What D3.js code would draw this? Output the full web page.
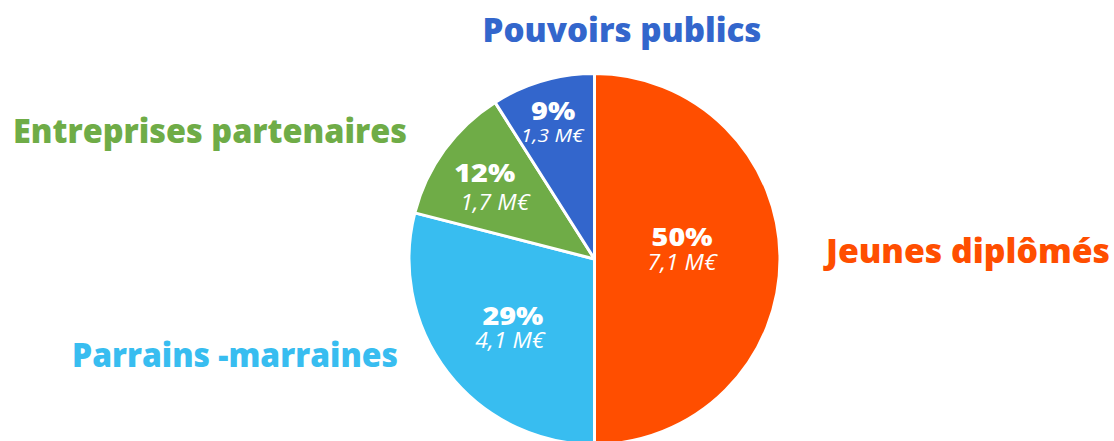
<!DOCTYPE html>
<html lang="fr">
<head>
<meta charset="UTF-8">
<title>Répartition du financement</title>
<script src="https://d3js.org/d3.v7.min.js"></script>
<style>
  html, body { margin: 0; padding: 0; background: #fff; }
  svg { display: block; }
  .name { font-family: "Open Sans", sans-serif; font-weight: 800; font-size: 33px; }
  .pct { font-family: "Open Sans", sans-serif; font-weight: 800; font-size: 25px; fill: #fff; }
  .amt { font-family: "Open Sans", sans-serif; font-style: italic; font-weight: 400; font-size: 21px; fill: #fff; }
</style>
</head>
<body>
<svg width="1114" height="441"></svg>
<script>
// data, clockwise from 12 o'clock
const categories = ["Jeunes diplômés", "Parrains -marraines", "Entreprises partenaires", "Pouvoirs publics"];
const shares = [50, 29, 12, 9];           // %
const amounts = ["7,1 M€", "4,1 M€", "1,7 M€", "1,3 M€"];
const colors = ["#FF4E00", "#38BDF0", "#6FAC47", "#3366CC"];

// layout
const cx = 594.5, cy = 259, R = 185.5;
// percent label baseline: [angle deg clockwise from top, distance from centre]
const inLabel = [[81.5, 88.5], [231, 105], [305, 134], [343.4, 145]];
// amount offset from percent label
const amtOffset = [[0, 24], [-3, 23], [10, 28], [-1, 22]];
// outside name: [x, baseline y, anchor, drawn width]
const outLabel = [[826, 263, "start", 284], [398, 367, "end", 326], [407, 143, "end", 394], [622, 42, "middle", 279]];

const svg = d3.select("svg");
const g = svg.append("g").attr("transform", `translate(${cx},${cy})`);

const pie = d3.pie().sort(null).value(d => d)(shares);
const arc = d3.arc().innerRadius(0).outerRadius(R);

g.selectAll("path.slice")
  .data(pie)
  .join("path")
  .attr("class", "slice")
  .attr("d", arc)
  .attr("fill", (d, i) => colors[i])
  .attr("stroke", "#fff")
  .attr("stroke-width", 3)
  .attr("stroke-linejoin", "round");

const lab = g.selectAll("g.lab")
  .data(pie)
  .join("g")
  .attr("class", "lab")
  .attr("transform", (d, i) => {
    const a = inLabel[i][0] * Math.PI / 180, r = inLabel[i][1];
    return `translate(${r * Math.sin(a)},${-r * Math.cos(a)})`;
  });

// stretch a text a little so it reads as wide as the geometric face of the original
function widen(sel, f) {
  sel.each(function () {
    const w = this.getComputedTextLength();
    d3.select(this).attr("textLength", w * f).attr("lengthAdjust", "spacingAndGlyphs");
  });
}

lab.append("text")
  .attr("class", "pct")
  .attr("text-anchor", "middle")
  .text((d, i) => shares[i] + "%")
  .call(widen, 1.15);

lab.append("text")
  .attr("class", "amt")
  .attr("text-anchor", "middle")
  .attr("x", (d, i) => amtOffset[i][0])
  .attr("y", (d, i) => amtOffset[i][1])
  .style("font-size", (d, i) => i === 3 ? "19px" : null)
  .text((d, i) => amounts[i])
  .call(widen, 1.1);

svg.selectAll("text.name")
  .data(categories)
  .join("text")
  .attr("class", "name")
  .attr("x", (d, i) => outLabel[i][0])
  .attr("y", (d, i) => outLabel[i][1])
  .attr("text-anchor", (d, i) => outLabel[i][2])
  .attr("textLength", (d, i) => outLabel[i][3])
  .attr("lengthAdjust", "spacingAndGlyphs")
  .attr("fill", (d, i) => colors[i])
  .text(d => d);
</script>
</body>
</html>
